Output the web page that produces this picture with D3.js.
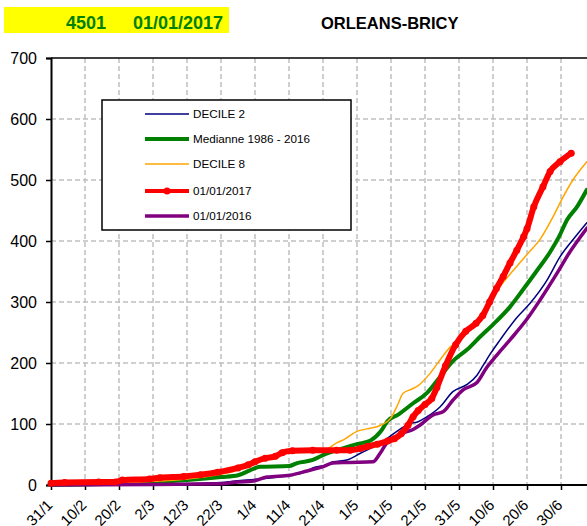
<!DOCTYPE html>
<html lang="en">
<head>
  <meta charset="UTF-8">
  <title>ORLEANS-BRICY</title>
  <style>
    body { margin: 0; background: #fff; }
    svg text { font-family: "Liberation Sans", Arial, sans-serif; }
  </style>
</head>
<body>
  <section class="plot"></section>

  <script src="https://cdn.jsdelivr.net/npm/d3@7/dist/d3.min.js"></script>
  <script>
    // Data: [day of year, cumulated value]
    const decile2 = [[31,0],[51,0],[61,1],[71,2],[81,4],[86,7],[94.5,11],[101.3,16],[106,22],[108,28],[112,33],[114,38],[118,41],[122,52],[125.7,62],[129.8,76],[134,93],[136.6,101],[138.6,103],[141.6,112],[145.4,128],[149.2,153],[153.4,165],[156.3,180],[158.1,196],[160.1,214],[163.1,238],[168.1,275],[171.9,298],[176.9,336],[180.7,374],[184.5,402],[188.6,430]];
    const median = [[31,0],[41,1],[51,2],[61,4],[71,8],[81,13],[86,16],[89.5,24],[92.5,30],[101,31],[103.4,36],[108,41],[111,49],[115,57],[121,67],[125,73],[128,88],[130,105],[133,115],[137.5,134],[141.6,151],[145.4,177],[149.2,203],[153.4,222],[157.2,243],[161,263],[166,292],[169.8,320],[174,352],[177.8,382],[180.5,408],[182.8,435],[185.7,456],[188.6,484]];
    const decile8 = [[31,0],[41,1],[51,3],[61,6],[71,10],[81,18],[86,25],[89,36],[92,40],[97,45],[100,52],[103,55],[110,56],[112,58],[115,69],[117,74],[121,88],[124,92],[128,98],[131,110],[133,132],[134.5,150],[137,157],[139,163],[142.5,183],[145.4,205],[148.4,226],[152,242],[155,260],[158,285],[160,300],[163,325],[167,352],[171,378],[175,404],[178.6,439],[181.6,472],[184.5,500],[188.6,530]];
    const y2017 = [[31,3],[35,4],[45,5],[50,5],[52,8],[60,10],[63,12],[70,14],[75,17],[80,21],[86,28],[89,33],[91,38],[94,44],[97,47],[99,53],[102,56],[108,57],[115,57],[119,57],[122,60],[124,63],[127,67],[130,72],[132,76],[134,84],[136,98],[137.5,112],[139,122],[141,132],[143,142],[144.5,160],[147,195],[150,230],[153,252],[156,265],[158,278],[160,300],[162,322],[164,342],[166,364],[168,385],[170,407],[171,420],[173,456],[175.7,489],[177.8,514],[180.7,530],[184,544]];
    const y2016 = [[31,0],[61,1],[81,2],[86,5],[90,6],[94.5,13],[101.3,16],[106.3,23],[111,30],[113.9,36],[118,37],[125.7,38],[127.8,52],[129.8,69],[131.6,74],[134.5,85],[137.5,91],[139.5,98],[143.4,115],[146.3,120],[149.2,139],[152.2,156],[156.3,168],[159.2,193],[162,212],[166,238],[171,272],[174.8,303],[179.8,347],[183.6,382],[188.6,421]];

    const seriesNames = ["DECILE 2", "Medianne 1986 - 2016", "DECILE 8", "01/01/2017", "01/01/2016"];
    const seriesColors = ["#000080", "#008000", "#ffa500", "#ff0000", "#800080"];
    const seriesWidths = [1.5, 4, 1.5, 6, 3.5];
    const seriesData = [decile2, median, decile8, y2017, y2016];

    const tickDays = [31, 41, 51, 61, 71, 81, 91, 101, 111, 121, 131, 141, 151, 161, 171, 181];
    const tickLabels = ["31/1", "10/2", "20/2", "2/3", "12/3", "22/3", "1/4", "11/4", "21/4", "1/5", "11/5", "21/5", "31/5", "10/6", "20/6", "30/6"];
    const yTicks = [0, 100, 200, 300, 400, 500, 600, 700];

    const W = 587, H = 526;
    const svg = d3.select(".plot")
      .append("svg")
      .attr("width", W)
      .attr("height", H);

    const x = d3.scaleLinear().domain([31, 181]).range([51, 561]);
    const y = d3.scaleLinear().domain([0, 700]).range([485, 58]);

    // Title
    svg.append("rect")
      .attr("x", 4).attr("y", 7).attr("width", 225).attr("height", 26)
      .attr("fill", "#ffff00");
    svg.append("text")
      .attr("x", 66).attr("y", 29)
      .attr("fill", "#008000").attr("font-size", 18).attr("font-weight", "bold")
      .text("4501");
    svg.append("text")
      .attr("x", 133).attr("y", 29)
      .attr("fill", "#008000").attr("font-size", 18).attr("font-weight", "bold")
      .text("01/01/2017");
    svg.append("text")
      .attr("x", 321).attr("y", 29)
      .attr("fill", "#000").attr("font-size", 16.5).attr("font-weight", "bold")
      .text("ORLEANS-BRICY");

    // Grid
    const grid = svg.append("g");
    grid.selectAll("line.v")
      .data(tickDays.slice(1))
      .enter()
      .append("line")
        .attr("x1", d => x(d)).attr("x2", d => x(d))
        .attr("y1", y(700)).attr("y2", y(0))
        .attr("stroke", "#c0c0c0").attr("stroke-width", 1.5)
        .attr("stroke-dasharray", "5,3");
    grid.selectAll("line.h")
      .data(yTicks.slice(1, -1))
      .enter()
      .append("line")
        .attr("x1", x(31)).attr("x2", W)
        .attr("y1", d => y(d)).attr("y2", d => y(d))
        .attr("stroke", "#c0c0c0").attr("stroke-width", 1.5)
        .attr("stroke-dasharray", "5,3");
    grid.append("line")
      .attr("x1", x(31)).attr("x2", W)
      .attr("y1", y(700)).attr("y2", y(700))
      .attr("stroke", "#000").attr("stroke-width", 1.5);

    // Axes
    const yAxis = svg.append("g")
      .attr("transform", `translate(${x(31)},0)`)
      .call(d3.axisLeft(y).tickValues(yTicks).tickSize(5).tickPadding(9));
    yAxis.select(".domain").attr("stroke", "#000").attr("stroke-width", 2);
    yAxis.selectAll(".tick line").attr("stroke", "#000").attr("stroke-width", 1.5);
    yAxis.selectAll(".tick text")
      .attr("font-size", 16).attr("fill", "#000")
      .style("font-family", "'Liberation Sans', Arial, sans-serif");

    const xAxis = svg.append("g")
      .attr("transform", `translate(0,${y(0)})`)
      .call(d3.axisBottom(x).tickValues(tickDays).tickFormat((d, i) => tickLabels[i]).tickSize(5));
    xAxis.select(".domain").attr("stroke", "#000").attr("stroke-width", 2).attr("d", `M${x(31)},0H${W}`);
    xAxis.selectAll(".tick line").attr("stroke", "#000").attr("stroke-width", 1.5);
    xAxis.selectAll(".tick text")
      .attr("x", 0).attr("y", 0).attr("dy", 0)
      .attr("transform", "translate(2,21) rotate(-45)")
      .style("text-anchor", "end")
      .style("font-family", "'Liberation Sans', Arial, sans-serif")
      .attr("font-size", 15).attr("fill", "#000");

    // Lines
    const line = d3.line()
      .x(d => x(d[0]))
      .y(d => y(d[1]))
      .curve(d3.curveMonotoneX);

    const order = [0, 1, 2, 4, 3];
    order.forEach(i => {
      svg.append("path")
        .datum(seriesData[i])
        .attr("d", line)
        .attr("fill", "none")
        .attr("stroke", seriesColors[i])
        .attr("stroke-width", seriesWidths[i])
        .attr("stroke-linejoin", "round")
        .attr("stroke-linecap", "round");
    });

    // markers of 2017
    svg.append("g")
      .selectAll("circle")
      .data(y2017)
      .enter()
      .append("circle")
        .attr("cx", d => x(d[0]))
        .attr("cy", d => y(d[1]))
        .attr("r", 3.5)
        .attr("fill", "#ff0000");

    // Legend
    const legend = svg.append("g");
    legend.append("rect")
      .attr("x", 102).attr("y", 100).attr("width", 249).attr("height", 130)
      .attr("fill", "#fff").attr("stroke", "#000").attr("stroke-width", 1.5);
    const legendY = [114, 139, 164, 191, 216];
    const items = legend.selectAll("g.item")
      .data(seriesNames)
      .enter()
      .append("g")
        .attr("transform", (d, i) => `translate(0,${legendY[i]})`);
    items.append("line")
      .attr("x1", 145).attr("x2", 189)
      .attr("stroke", (d, i) => seriesColors[i])
      .attr("stroke-width", (d, i) => Math.min(seriesWidths[i], 4));
    items.filter((d, i) => i === 3)
      .append("circle")
      .attr("cx", 167).attr("cy", 0).attr("r", 3.5)
      .attr("fill", "#ff0000");
    items.append("text")
      .attr("x", 193).attr("y", 4)
      .attr("font-size", 11.7).attr("fill", "#000")
      .text(d => d);
  </script>
</body>
</html>
